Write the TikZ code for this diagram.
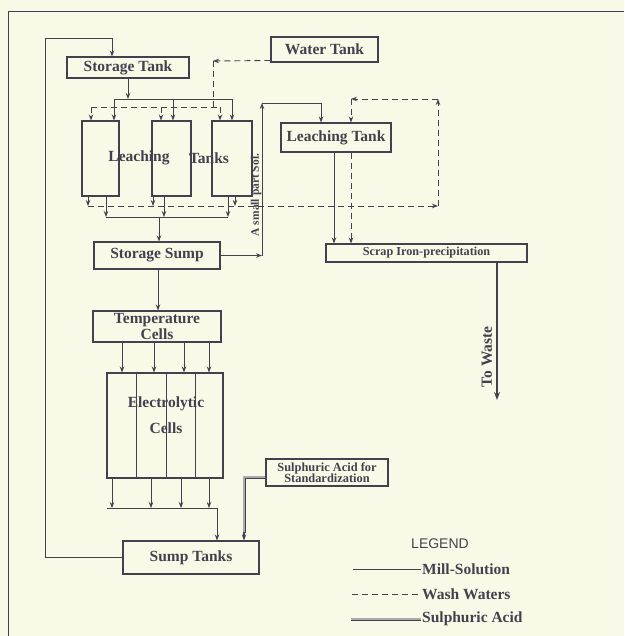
\documentclass[tikz,border=0pt]{standalone}
\usepackage{fontspec}
\setmainfont{Liberation Serif}
\newfontfamily\legendfont{Liberation Sans}
\usetikzlibrary{arrows.meta}
\definecolor{paper}{RGB}{250,248,230}
\definecolor{ink}{RGB}{70,64,78}
\begin{document}
\begin{tikzpicture}[x=1pt,y=-1pt,
  box/.style={draw=ink, line width=1.1pt, inner sep=0pt, text=ink,
    font=\fontsize{15.5}{14}\selectfont\bfseries, align=center},
  lbl/.style={text=ink, inner sep=1pt, font=\fontsize{15.5}{14}\selectfont\bfseries},
  flow/.style={draw=ink, line width=0.9pt},
  arr/.style={flow, -{Stealth[length=6pt,width=4.5pt]}},
  wash/.style={flow, dash pattern=on 6pt off 4pt},
  warr/.style={wash, -{Stealth[length=6pt,width=4.5pt]}},
  acid/.style={draw=ink, line width=0.9pt, double=ink!45, double distance=1.2pt},
  waste/.style={draw=ink, line width=2.4pt, -{Stealth[length=8pt,width=6pt]}}
]
\fill[paper] (0,0) rectangle (624,636);
\useasboundingbox (0,0) rectangle (624,636);
% outer frame
\draw[ink, line width=0.8pt] (624,11) -- (8,11) -- (8,636);

% boxes
\node[box, minimum width=122pt, minimum height=21pt] (storage) at (128,67.5) {Storage Tank};
\node[box, minimum width=107pt, minimum height=25pt] (water) at (324.5,49.5) {Water Tank};
\node[box, minimum width=37pt, minimum height=75pt] (t1) at (100.5,158.5) {};
\node[box, minimum width=39pt, minimum height=75pt] (t2) at (171.5,158.5) {};
\node[box, minimum width=40pt, minimum height=75pt] (t3) at (232,158.5) {};
\node[lbl] (ltxt1) at (139,158) {Leaching};
\node[lbl] (ltxt2) at (209,158) {Tanks};
\node[box, minimum width=110pt, minimum height=29pt] (leach) at (336,137.5) {Leaching Tank};
\node[box, minimum width=126pt, minimum height=27pt] (ssump) at (157,255.5) {Storage Sump};
\node[box, minimum width=201pt, minimum height=18pt, font=\fontsize{12.2}{12}\selectfont\bfseries] (scrap) at (426.5,253) {Scrap Iron-precipitation};
\node[box, minimum width=128pt, minimum height=31pt] (temp) at (157,326.5) {Temperature\\Cells};
\node[box, minimum width=116pt, minimum height=105pt] (elec) at (165,425.5) {};
\node[lbl] (etxt1) at (166,404) {Electrolytic};
\node[lbl] (etxt2) at (166,428) {Cells};
\node[box, minimum width=122pt, minimum height=27pt, font=\fontsize{12.4}{11.5}\selectfont\bfseries] (acidbox) at (327,472.5) {Sulphuric Acid for\\Standardization};
\node[box, minimum width=136pt, minimum height=33pt] (sump) at (191,557.5) {Sump Tanks};

% electrolytic cell partitions
\draw[flow] (elec.north -| 136,0) -- (elec.south -| 136,0);
\draw[flow] (elec.north -| 166,0) -- (elec.south -| 166,0);
\draw[flow] (elec.north -| 195,0) -- (elec.south -| 195,0);

% return loop from sump tanks to storage tank
\draw[arr] (sump.west) -| (45,38) -| ([xshift=-16pt]storage.north);

% storage tank to leaching tanks
\coordinate (busA) at (128,99);
\draw[arr] (storage.south) -- (busA);
\draw[flow] (114,99) -- (232,99);
\draw[arr] (114,99) -- (t1.north -| 114,0);
\draw[arr] (173,99) -- (t2.north -| 173,0);
\draw[arr] (232,99) -- (t3.north);

% water tank wash water
\coordinate (wcorner) at (213,61);
\draw[warr] ([yshift=-11pt]water.west) -- (wcorner);
\draw[wash] (wcorner) -- (213,107);
\draw[wash] (91,107) -- (220,107);
\draw[warr] (91,107) -- (t1.north -| 91,0);
\draw[warr] (161,107) -- (t2.north -| 161,0);
\draw[warr] (220,107) -- (t3.north -| 220,0);

% wash water out of leaching tanks to leaching tank
\draw[warr] (t1.south -| 88,0) -- (88,206);
\draw[warr] (t2.south -| 153,0) -- (153,206);
\draw[warr] (t3.south -| 235,0) -- (235,206);
\draw[warr] (88,206) -- (438,206);
\draw[warr] (438,206) -- (438,99);
\draw[warr] (438,99) -- (351,99);
\draw[warr] (351,99) -- (leach.north -| 351,0);

% solution out of leaching tanks to storage sump
\draw[arr] (t1.south -| 106,0) -- (106,217);
\draw[arr] (t2.south -| 164,0) -- (164,217);
\draw[arr] (t3.south -| 228,0) -- (228,217);
\draw[flow] (106,217) -- (228,217);
\draw[arr] (159,217) -- (ssump.north -| 159,0);

% small part of solution to leaching tank
\coordinate (sp) at (262,255.5);
\draw[arr] (ssump.east) -- (sp);
\draw[arr] (sp) -- (262,103);
\draw[arr] (262,103) -| (leach.north -| 321,0);
\node[rotate=90, text=ink, inner sep=0pt, font=\fontsize{11.5}{12}\selectfont\bfseries] (smalltxt) at (256,195) {A small part Sol.};

% leaching tank to scrap iron precipitation
\draw[arr] (leach.south -| 334,0) -- (scrap.north -| 334,0);
\draw[warr] (leach.south -| 351,0) -- (scrap.north -| 351,0);

% to waste
\coordinate (wasteend) at (497,400);
\draw[waste] (scrap.south -| 497,0) -- (wasteend);
\node[rotate=90, lbl] (wastetxt) at (487,357) {To Waste};

% storage sump to temperature cells to electrolytic cells
\draw[arr] (ssump.south -| 158,0) -- (temp.north -| 158,0);
\foreach \xx in {122,154,184,209} {
  \draw[arr] (temp.south -| \xx,0) -- (elec.north -| \xx,0);
}
\foreach \xx in {112,151,181,209} {
  \draw[arr] (elec.south -| \xx,0) -- (\xx,508);
}
\draw[flow] (107,508) -- (217,508);
\draw[arr] (217,508) -- (sump.north -| 217,0);

% sulphuric acid
\draw[acid] ([yshift=-4.5pt]acidbox.west) -| (244,533);
\draw[arr, line width=1.4pt] (244,532) -- (sump.north -| 244,0);

% legend
\node[text=ink, font=\legendfont\fontsize{14}{16}\selectfont] (legend) at (440,544) {LEGEND};
\node[lbl, anchor=west] (lmill) at (421,569) {Mill-Solution};
\draw[flow] (353,569) -- (lmill.west);
\node[lbl, anchor=west] (lwash) at (421,594) {Wash Waters};
\draw[wash] (352,594) -- (lwash.west);
\node[lbl, anchor=west] (lacid) at (421,619) {Sulphuric Acid};
\draw[acid] (351,619) -- (lacid.west);
\end{tikzpicture}
\end{document}
